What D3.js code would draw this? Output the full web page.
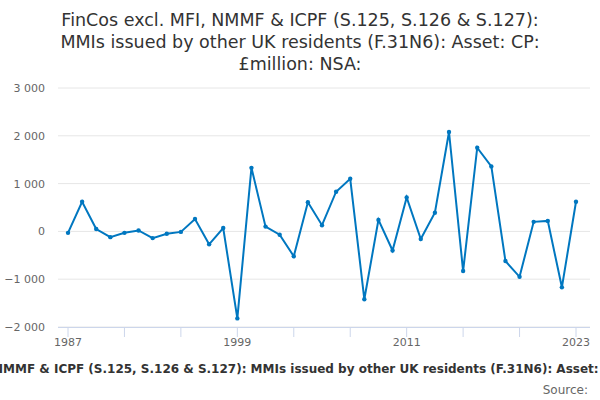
<html>
<head>
<script src="https://cdn.jsdelivr.net/npm/d3@7"></script>
<style>
  body { margin: 0; font-family: "DejaVu Sans", sans-serif; }
  text { font-family: "DejaVu Sans", sans-serif; }
</style>
</head>
<body>
<div id="chart"></div>
<script>
var years = d3.range(1987, 2024);
var values = [-30, 620, 50, -120, -30, 20, -140, -50, -10, 260, -270, 70, -1820, 1330, 100, -70,
  -520, 610, 130, 830, 1100, -1420, 240, -400, 710, -160, 390, 2080, -830, 1750, 1360, -620,
  -950, 200, 220, -1170, 620];
var yTicks = [-2000, -1000, 0, 1000, 2000, 3000];
var xLabels = [1987, 1999, 2011, 2023];
var title = ["FinCos excl. MFI, NMMF & ICPF (S.125, S.126 & S.127):",
  "MMIs issued by other UK residents (F.31N6): Asset: CP:",
  "£million: NSA:"];
var fullTitle = title.join(" ");

var width = 600, height = 400;
var svg = d3.select("#chart").append("svg").attr("width", width).attr("height", height);
svg.append("rect").attr("width", width).attr("height", height).attr("fill", "#fff");

var x = d3.scaleLinear().domain([1987, 2023]).range([68, 576]);
var y = d3.scaleLinear().domain([-2000, 3000]).range([327, 88]);
var fmt = function(v) { return d3.format(",")(v).replace(",", " ").replace("-", "\u2212"); };

svg.append("g").selectAll("text").data(title).enter().append("text")
  .attr("x", 300).attr("y", function(d, i) { return 26 + i * 22; })
  .attr("text-anchor", "middle").attr("font-size", 17.5).attr("fill", "#333")
  .text(function(d) { return d; });

svg.append("g").selectAll("line").data(yTicks).enter().append("line")
  .attr("x1", 58).attr("x2", 590)
  .attr("y1", function(d) { return y(d); }).attr("y2", function(d) { return y(d); })
  .attr("stroke", "#e6e6e6");
svg.append("g").selectAll("text").data(yTicks).enter().append("text")
  .attr("x", 45).attr("y", function(d) { return y(d) + 4; })
  .attr("text-anchor", "end").attr("font-size", 11).attr("fill", "#666")
  .text(fmt);

svg.append("line").attr("x1", 58).attr("x2", 590).attr("y1", 327.5).attr("y2", 327.5).attr("stroke", "#ccd6eb");
svg.append("g").selectAll("line").data(d3.range(1987, 2024, 4)).enter().append("line")
  .attr("x1", function(d) { return x(d); }).attr("x2", function(d) { return x(d); })
  .attr("y1", 327).attr("y2", 337).attr("stroke", "#ccd6eb");
svg.append("g").selectAll("text").data(xLabels).enter().append("text")
  .attr("x", function(d) { return x(d); }).attr("y", 346)
  .attr("text-anchor", "middle").attr("font-size", 11).attr("fill", "#666")
  .text(function(d) { return d; });

var line = d3.line().x(function(d, i) { return x(years[i]); }).y(function(d) { return y(d); });
svg.append("path").datum(values).attr("d", line).attr("fill", "none")
  .attr("stroke", "#0077c0").attr("stroke-width", 2);
svg.append("g").selectAll("circle").data(values).enter().append("circle")
  .attr("cx", function(d, i) { return x(years[i]); }).attr("cy", function(d) { return y(d); })
  .attr("r", 2.2).attr("fill", "#0077c0");

svg.append("text").attr("x", 300).attr("y", 373).attr("text-anchor", "middle")
  .attr("font-size", 12).attr("font-weight", "bold").attr("fill", "#333").text(fullTitle);
svg.append("text").attr("x", 588).attr("y", 394).attr("text-anchor", "end")
  .attr("font-size", 12).attr("fill", "#666").text("Source:");
</script>
</body>
</html>
